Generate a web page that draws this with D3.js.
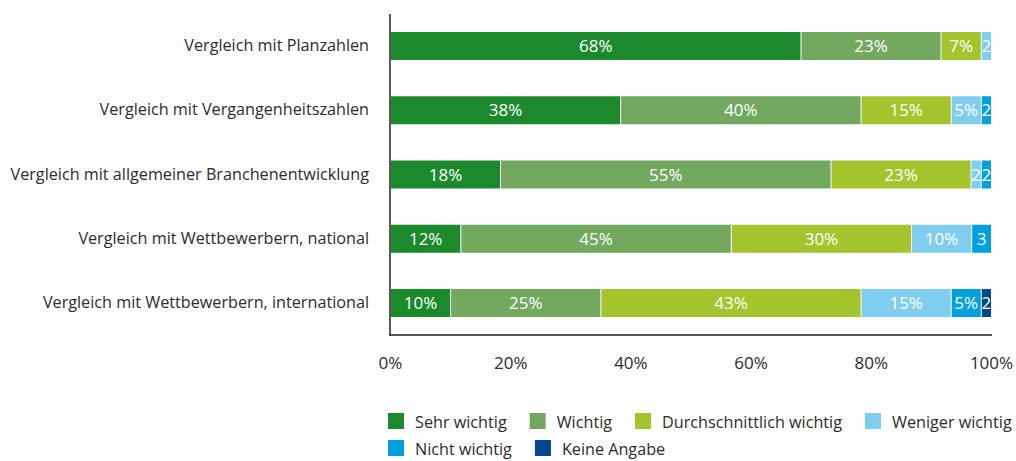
<!DOCTYPE html>
<html>
<head>
<meta charset="utf-8">
<script src="https://cdn.jsdelivr.net/npm/d3@7"></script>
<style>
  html, body { margin: 0; padding: 0; background: #fff; }
  svg { display: block; font-family: "Open Sans", "Noto Sans", sans-serif; }
</style>
</head>
<body>
<svg id="chart" width="1016" height="461"></svg>
<script>
// ---- data ----
const categories = [
  "Vergleich mit Planzahlen",
  "Vergleich mit Vergangenheitszahlen",
  "Vergleich mit allgemeiner Branchenentwicklung",
  "Vergleich mit Wettbewerbern, national",
  "Vergleich mit Wettbewerbern, international"
];
const seriesNames = ["Sehr wichtig", "Wichtig", "Durchschnittlich wichtig", "Weniger wichtig", "Nicht wichtig", "Keine Angabe"];
const sehrWichtig      = [68.3, 38.3, 18.3, 11.7, 10.0];
const wichtig          = [23.3, 40.0, 55.0, 45.0, 25.0];
const durchschnittlich = [ 6.7, 15.0, 23.3, 30.0, 43.3];
const wenigerWichtig   = [ 1.7,  5.0,  1.7, 10.0, 15.0];
const nichtWichtig     = [ 0.0,  1.7,  1.7,  3.3,  5.0];
const keineAngabe      = [ 0.0,  0.0,  0.0,  0.0,  1.7];
const xTicks = [0, 20, 40, 60, 80, 100];
const tickLabels = ["0%", "20%", "40%", "60%", "80%", "100%"];
const colors = ["#1c8a2c", "#73a85f", "#a3c42d", "#7fcdef", "#00a0df", "#02468c"];

const seriesValues = [sehrWichtig, wichtig, durchschnittlich, wenigerWichtig, nichtWichtig, keineAngabe];
const table = categories.map((c, i) => {
  const row = { category: c };
  seriesNames.forEach((s, j) => row[s] = seriesValues[j][i]);
  return row;
});

// ---- layout ----
const svg = d3.select("#chart");
const x = d3.scaleLinear().domain([0, 100]).range([390, 991]);
const y = d3.scaleBand().domain(categories).range([32, 317]).paddingInner(0.564).paddingOuter(0);
const textColor = "#2b2b2b";

const stack = d3.stack().keys(seriesNames)(table);

const layers = svg.append("g").selectAll("g")
  .data(stack).join("g")
  .attr("fill", (d, i) => colors[i]);

layers.selectAll("rect")
  .data(d => d.filter(p => p[1] - p[0] > 0))
  .join("rect")
  .attr("x", d => x(d[0]) + 1)
  .attr("y", d => y(d.data.category))
  .attr("width", d => Math.max(0, x(d[1]) - x(d[0]) - 1))
  .attr("height", y.bandwidth());

layers.selectAll("text")
  .data(d => d.filter(p => p[1] - p[0] > 0))
  .join("text")
  .attr("x", d => (x(d[0]) + 1 + x(d[1])) / 2)
  .attr("y", d => y(d.data.category) + y.bandwidth() / 2)
  .attr("dy", "0.36em")
  .attr("text-anchor", "middle")
  .attr("fill", "#fff")
  .style("font-size", "17px")
  .text(d => {
    const v = d[1] - d[0];
    return Math.round(v) + (v >= 4 ? "%" : "");
  });

// axes lines
svg.append("line")
  .attr("x1", 390).attr("x2", 390).attr("y1", 14).attr("y2", 335.5)
  .attr("stroke", "#222").attr("stroke-width", 1.5);
svg.append("line")
  .attr("x1", 389.25).attr("x2", 992).attr("y1", 335).attr("y2", 335)
  .attr("stroke", "#222").attr("stroke-width", 1.5);

// x tick labels
const xAxis = d3.axisBottom(x).tickValues(xTicks).tickSize(0).tickPadding(0)
  .tickFormat((d, i) => tickLabels[i]);
const gx = svg.append("g").attr("transform", "translate(0,357)").call(xAxis);
gx.select(".domain").remove();
gx.selectAll("text")
  .attr("dy", "0.71em")
  .attr("fill", textColor)
  .style("font-size", "17px")
  .style("font-family", '"Open Sans", "Noto Sans", sans-serif');

// category labels
const yAxis = d3.axisLeft(y).tickSize(0).tickPadding(0);
const gy = svg.append("g").attr("transform", "translate(369,0)").call(yAxis);
gy.select(".domain").remove();
gy.selectAll("text")
  .attr("fill", textColor)
  .style("font-size", "16.2px")
  .style("font-family", '"Open Sans", "Noto Sans", sans-serif');

// legend
const legend = svg.append("g");
const rows = [[0, 1, 2, 3], [4, 5]];
const rowY = [413, 440];
rows.forEach((items, r) => {
  let cx = 388;
  items.forEach(idx => {
    const g = legend.append("g");
    g.append("rect")
      .attr("x", cx).attr("y", rowY[r])
      .attr("width", 16).attr("height", 16)
      .attr("fill", colors[idx]);
    const t = g.append("text")
      .attr("x", cx + 27).attr("y", rowY[r] + 15)
      .attr("fill", textColor)
      .style("font-size", "16.2px")
      .text(seriesNames[idx]);
    cx = cx + 27 + t.node().getComputedTextLength() + 23;
  });
});
</script>
</body>
</html>
